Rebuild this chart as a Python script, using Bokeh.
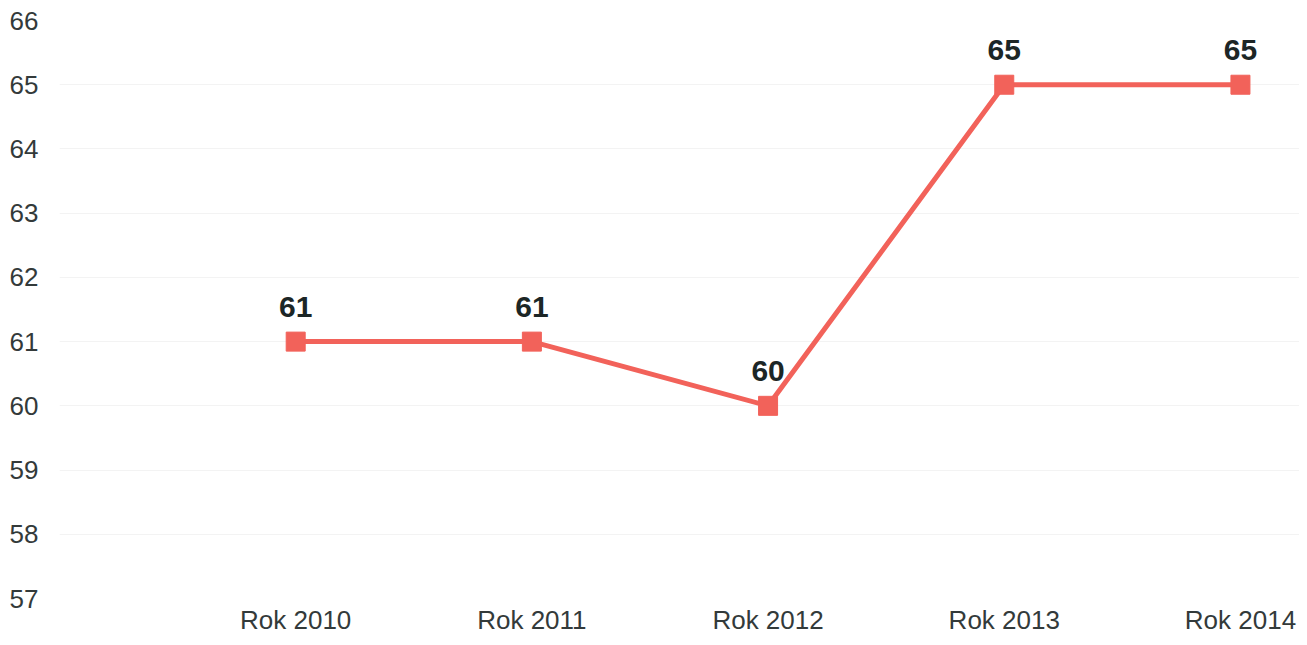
from bokeh.plotting import figure
from bokeh.models import ColumnDataSource, FixedTicker, Range1d
from bokeh.embed import file_html
from bokeh.resources import INLINE
from bokeh.core.properties import value

categories = ["Rok 2010", "Rok 2011", "Rok 2012", "Rok 2013", "Rok 2014"]
values = [61, 61, 60, 65, 65]
y_ticks = [57, 58, 59, 60, 61, 62, 63, 64, 65, 66]

xs = list(range(1, len(categories) + 1))
src = ColumnDataSource(dict(x=xs, y=values, lbl=[str(v) for v in values]))

p = figure(width=1299, height=637, output_backend="svg", toolbar_location=None,
           x_range=Range1d(0, 5.25), y_range=Range1d(57, 66),
           min_border_left=59, min_border_right=0, min_border_top=20, min_border_bottom=39)
p.outline_line_color = None
p.background_fill_color = "white"

p.line("x", "y", source=src, line_color="#F2625A", line_width=5)
p.scatter("x", "y", source=src, marker="square", size=19, fill_color="#F2625A", line_color="#F2625A")
p.text("x", "y", text="lbl", source=src, text_align="center", text_baseline="bottom",
       y_offset=-25, text_font=value("Liberation Sans"), text_font_style="bold",
       text_font_size="30px", text_color="#1c2626")

p.xaxis.ticker = FixedTicker(ticks=xs)
p.xaxis.major_label_overrides = {i: c for i, c in zip(xs, categories)}
p.yaxis.ticker = FixedTicker(ticks=y_ticks)

for ax in (p.xaxis[0], p.yaxis[0]):
    ax.axis_line_color = None
    ax.major_tick_line_color = None
    ax.minor_tick_line_color = None
    ax.major_tick_out = 0
    ax.major_tick_in = 0
    ax.minor_tick_out = 0
    ax.minor_tick_in = 0
    ax.major_label_text_font = "Liberation Sans"
    ax.major_label_text_font_size = "26px"
    ax.major_label_text_color = "#333a3a"
p.yaxis.major_label_standoff = 21
p.xaxis.major_label_standoff = 6

p.xgrid.grid_line_color = None
p.ygrid.ticker = FixedTicker(ticks=y_ticks)
p.ygrid.grid_line_color = "#f3f3f3"
p.ygrid.grid_line_width = 1

open("out.html", "w").write(file_html(p, INLINE))
